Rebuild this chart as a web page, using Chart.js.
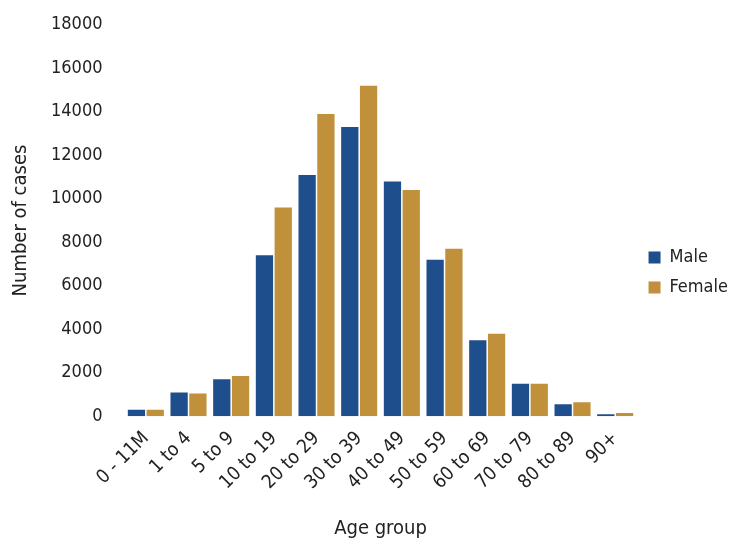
<!DOCTYPE html>
<html><head><meta charset="utf-8">
<script src="https://cdn.jsdelivr.net/npm/chart.js@4"></script>
<style>html,body{margin:0;background:#fff}#w{width:738px;height:547px}</style>
</head><body><div id="w"><canvas id="c"></canvas></div>
<script>
const categories=["0 - 11M","1 to 4","5 to 9","10 to 19","20 to 29","30 to 39","40 to 49","50 to 59","60 to 69","70 to 79","80 to 89","90+"];
const male=[300,1100,1700,7400,11100,13300,10800,7200,3500,1500,550,100];
const female=[300,1050,1850,9600,13900,15200,10400,7700,3800,1500,650,150];
const yTicks=[0,2000,4000,6000,8000,10000,12000,14000,16000,18000];
const F="'DejaVu Sans Condensed','Liberation Sans',Arial,sans-serif";
new Chart(document.getElementById('c'),{type:'bar',
data:{labels:categories,datasets:[
{label:'Male',data:male,backgroundColor:'#1f4e8c',categoryPercentage:0.88,barPercentage:0.92},
{label:'Female',data:female,backgroundColor:'#c0903a',categoryPercentage:0.88,barPercentage:0.92}]},
options:{responsive:true,maintainAspectRatio:false,animation:false,
layout:{padding:{top:0,right:0,left:5,bottom:2}},
plugins:{legend:{position:'right',labels:{boxWidth:12,boxHeight:12,font:{family:F,size:18},color:'#222',padding:12}},tooltip:{enabled:false}},
scales:{
x:{grid:{display:false},border:{display:false},ticks:{color:'#222',font:{family:F,size:19},maxRotation:45,minRotation:45},
 title:{display:true,text:'Age group',color:'#222',font:{family:F,size:20},padding:{top:20,bottom:4}}},
y:{min:0,max:18000,afterBuildTicks:a=>{a.ticks=yTicks.map(v=>({value:v}))},grid:{display:false},border:{display:false},
 ticks:{color:'#222',font:{family:F,size:18},padding:14,callback:v=>String(v)},
 title:{display:true,text:'Number of cases',color:'#222',font:{family:F,size:20}}}}}});
</script></body></html>
